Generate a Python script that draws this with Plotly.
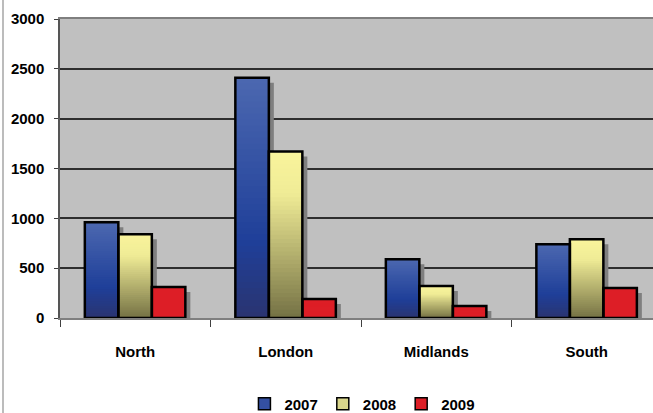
import plotly.graph_objects as go

categories = ["North", "London", "Midlands", "South"]
years = ["2007", "2008", "2009"]
v2007 = [960, 2410, 590, 740]
v2008 = [840, 1670, 320, 790]
v2009 = [310, 190, 120, 300]
series_values = [v2007, v2008, v2009]

# gradient stops (position from top 0..1, rgb)
grad_stops = [
    [(0.0, (76, 104, 176)), (0.68, (31, 63, 153)), (1.0, (42, 52, 112))],
    [(0.0, (249, 244, 156)), (0.25, (240, 236, 150)), (1.0, (116, 113, 68))],
    [(0.0, (221, 31, 39)), (1.0, (221, 31, 39))],
]
legend_colors = ["#3450a2", "#d9d68c", "#dd1f27"]

BAR_W = 0.2226
OFFSETS = [-0.335, -0.335 + BAR_W, -0.335 + 2 * BAR_W]
SHADOW_DX = 5 / 150.5
SHADOW_DY = 50
N_SLICES = 40


def grad_color(stops, t):
    for (t0, c0), (t1, c1) in zip(stops[:-1], stops[1:]):
        if t0 <= t <= t1:
            f = 0 if t1 == t0 else (t - t0) / (t1 - t0)
            c = [round(a + (b - a) * f) for a, b in zip(c0, c1)]
            return "rgb(%d,%d,%d)" % tuple(c)
    return "rgb(%d,%d,%d)" % stops[-1][1]


fig = go.Figure()

# shadows
for i, vals in enumerate(series_values):
    fig.add_trace(go.Bar(
        x=categories, y=[max(v - SHADOW_DY, 0) for v in vals],
        offset=OFFSETS[i] + SHADOW_DX, width=BAR_W,
        marker=dict(color="#7f7f7f", line=dict(width=0)),
        showlegend=False, hoverinfo="skip"))

# gradient fills
for i, vals in enumerate(series_values):
    for k in range(N_SLICES):
        frac = k / N_SLICES
        t_top = 1 - (k + 0.5) / N_SLICES
        fig.add_trace(go.Bar(
            x=categories, y=[v * (1 - frac) for v in vals],
            base=[v * frac for v in vals],
            offset=OFFSETS[i], width=BAR_W,
            marker=dict(color=grad_color(grad_stops[i], t_top), line=dict(width=0)),
            showlegend=False, hoverinfo="skip"))

# outlines
for i, vals in enumerate(series_values):
    fig.add_trace(go.Bar(
        x=categories, y=vals, offset=OFFSETS[i], width=BAR_W,
        marker=dict(color="rgba(0,0,0,0)", line=dict(color="black", width=2.5)),
        showlegend=False, name=years[i]))

# legend entries
for i, y in enumerate(years):
    fig.add_trace(go.Bar(
        x=categories, y=[None] * len(categories), name=y,
        marker=dict(color=legend_colors[i], line=dict(color="black", width=1.5)),
        showlegend=True))

FONT = "Liberation Sans, Arial, sans-serif"

fig.update_layout(
    width=653, height=413,
    margin=dict(l=60, r=0, t=19, b=95, autoexpand=False),
    paper_bgcolor="white",
    plot_bgcolor="#c0c0c0",
    barmode="overlay",
    font=dict(family=FONT, size=15, color="black", weight="bold"),
    legend=dict(orientation="h", x=0.51, xanchor="center", y=-0.288, yanchor="middle",
                font=dict(size=15, weight="bold"), itemwidth=30,
                bgcolor="rgba(0,0,0,0)", traceorder="normal"),
    xaxis=dict(type="category", range=[-0.5, 3.44], showgrid=False,
               showline=True, linecolor="#7f7f7f", linewidth=2, mirror=True,
               ticks="outside", tickson="boundaries", ticklen=7, tickcolor="#404040",
               tickwidth=1.2, ticklabelstandoff=19),
    yaxis=dict(range=[0, 3000], dtick=500, showgrid=True, gridcolor="#2e2e2e", gridwidth=1.5,
               zeroline=False, showline=True, linecolor="#555555", linewidth=1.5,
               ticks="outside", ticklen=4, tickcolor="#404040", ticklabelstandoff=7),
    shapes=[dict(type="line", xref="paper", yref="paper",
                 x0=(3 - 60) / 593, x1=(3 - 60) / 593, y0=-95 / 299, y1=1 + 19 / 299,
                 line=dict(color="#a6a6a6", width=1.5))],
)

fig.write_html("out.html")
